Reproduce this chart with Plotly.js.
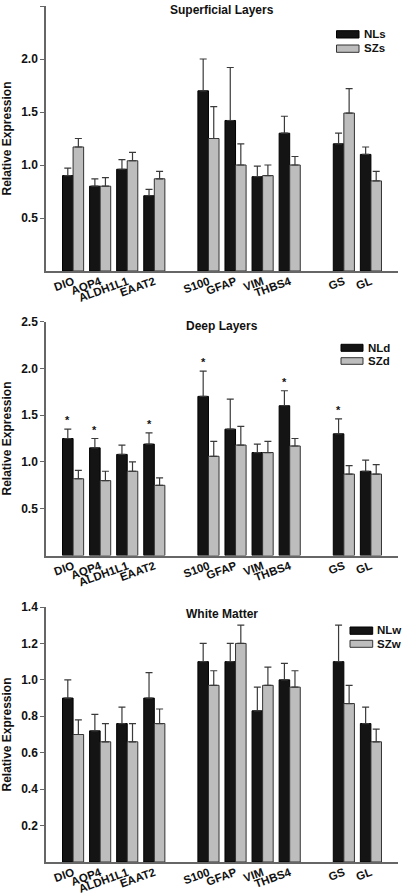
<!DOCTYPE html>
<html><head><meta charset="utf-8">
<script src="https://cdn.plot.ly/plotly-3.0.1.min.js"></script>
<style>html,body{margin:0;padding:0;background:#fff}#chart{width:407px;height:895px}</style>
</head><body><div id="chart"></div>
<script>
// ---------------- DATA ----------------
const markerGroups = [['DIO','AQP4','ALDH1L1','EAAT2'],['S100','GFAP','VIM','THBS4'],['GS','GL']];
const genes = ['DIO','AQP4','ALDH1L1','EAAT2','S100','GFAP','VIM','THBS4','GS','GL'];
const panelTitles = ['Superficial Layers','Deep Layers','White Matter'];
const controlNames = ['NLs','NLd','NLw'];
const schizNames = ['SZs','SZd','SZw'];
const yAxisTitle = 'Relative Expression';

const nlSuperficial    = [0.90,0.80,0.96,0.71,1.70,1.42,0.89,1.30,1.20,1.10];
const nlSuperficialErr = [0.07,0.07,0.09,0.06,0.30,0.50,0.10,0.16,0.10,0.07];
const szSuperficial    = [1.17,0.80,1.04,0.87,1.25,1.00,0.90,1.00,1.49,0.85];
const szSuperficialErr = [0.08,0.08,0.08,0.07,0.30,0.20,0.10,0.08,0.23,0.09];

const nlDeep    = [1.25,1.15,1.08,1.19,1.70,1.35,1.10,1.60,1.30,0.90];
const nlDeepErr = [0.10,0.10,0.10,0.12,0.27,0.32,0.09,0.16,0.16,0.12];
const szDeep    = [0.82,0.80,0.90,0.75,1.06,1.18,1.10,1.17,0.87,0.87];
const szDeepErr = [0.09,0.10,0.10,0.08,0.16,0.20,0.12,0.08,0.09,0.10];
const deepSignificant = ['DIO','AQP4','EAAT2','S100','THBS4','GS'];

const nlWhite    = [0.90,0.72,0.76,0.90,1.10,1.10,0.83,1.00,1.10,0.76];
const nlWhiteErr = [0.10,0.09,0.09,0.14,0.10,0.10,0.13,0.09,0.20,0.09];
const szWhite    = [0.70,0.66,0.66,0.76,0.97,1.20,0.97,0.96,0.87,0.66];
const szWhiteErr = [0.08,0.10,0.10,0.08,0.08,0.10,0.10,0.09,0.10,0.07];

const yTicksLayers = [0.5,1.0,1.5,2.0,2.5];
const yTicksWhite  = [0.2,0.4,0.6,0.8,1.0,1.2,1.4];
const yMaxLayers = 2.5, yMaxWhite = 1.4;

// ---------------- BUILD ----------------
const W = 407, H = 895;
const M = {l:46, r:9, t:6, b:33};
const plotW = W - M.l - M.r, plotH = H - M.t - M.b;
const FONT = 'Liberation Sans, Arial, Helvetica, sans-serif';
const DARK = '#141414', LIGHT = '#bdbdbd';

// category order with blank spacer slots between marker groups
const order = [];
markerGroups.forEach((g, i) => { if (i) order.push(' '.repeat(i)); g.forEach(n => order.push(n)); });
const expand = arr => order.map(c => { const k = genes.indexOf(c); return k < 0 ? null : arr[k]; });

const panels = [
  {top:6,     bottom:271,   nl:nlSuperficial, nlE:nlSuperficialErr, sz:szSuperficial, szE:szSuperficialErr, ymax:yMaxLayers, ticks:yTicksLayers, sig:[],
   leg:{x0:336.5, x1:359, dark:[30.7,38], gray:[45,52.3], tx:362, ty:[33.7,48.3]}, titleY:9.5},
  {top:321.5, bottom:555.5, nl:nlDeep, nlE:nlDeepErr, sz:szDeep, szE:szDeepErr, ymax:yMaxLayers, ticks:yTicksLayers, sig:deepSignificant,
   leg:{x0:341, x1:363, dark:[344.3,351.3], gray:[357.7,364.3], tx:366, ty:[347.7,360.7]}, titleY:325.5},
  {top:607,   bottom:862,   nl:nlWhite, nlE:nlWhiteErr, sz:szWhite, szE:szWhiteErr, ymax:yMaxWhite, ticks:yTicksWhite, sig:[],
   leg:{x0:350, x1:372.7, dark:[627,634.3], gray:[640.3,647.3], tx:375, ty:[630.3,644]}, titleY:614}
];

const traces = [], shapes = [], annotations = [];
const layout = {
  width: W, height: H, margin: M, paper_bgcolor: '#fff', plot_bgcolor: '#fff',
  showlegend: false, barmode: 'group', bargap: 0.22, bargroupgap: 0,
  font: {family: FONT, size: 12, color: '#111', weight: 'bold'},
  shapes, annotations
};

panels.forEach((p, i) => {
  const sfx = i ? String(i + 1) : '';
  const xa = 'x' + sfx, ya = 'y' + sfx;
  const dom = [(H - M.b - p.bottom) / plotH, (H - M.b - p.top) / plotH];
  const xd = px => (px - M.l) / plotW;
  const yd = py => (p.bottom - py) / (p.bottom - p.top);

  const errStyle = (arr) => ({type:'data', symmetric:false, array: expand(arr), arrayminus: expand(arr.map(() => 0)),
                               color:'#3a3a3a', thickness:1.2, width:3.5});
  traces.push({type:'bar', name: controlNames[i], x: order, y: expand(p.nl), xaxis: xa, yaxis: ya,
    marker:{color: DARK, line:{color:'#000', width:1}}, error_y: errStyle(p.nlE), hoverinfo:'x+y'});
  traces.push({type:'bar', name: schizNames[i], x: order, y: expand(p.sz), xaxis: xa, yaxis: ya,
    marker:{color: LIGHT, line:{color:'#333', width:1}}, error_y: errStyle(p.szE), hoverinfo:'x+y'});

  layout['xaxis' + sfx] = {
    anchor: ya, domain: [0, 1], type: 'category', categoryorder: 'array', categoryarray: order,
    range: [-1, order.length], showline: true, linecolor: '#666', linewidth: 1.5, ticks: '',
    tickangle: -20, ticklabelstandoff: -2, tickfont: {family: FONT, size: 11.5, color: '#111', weight: 'bold'},
    showgrid: false, zeroline: false, fixedrange: true
  };
  layout['yaxis' + sfx] = {
    anchor: xa, domain: dom, range: [0, p.ymax], tickvals: p.ticks, tickformat: '.1f',
    showline: true, linecolor: '#666', linewidth: 1.5, ticks: 'outside', ticklen: 4, tickcolor: '#666', tickwidth: 1.2,
    tickfont: {family: FONT, size: 12, color: '#111', weight: 'bold'},
    showgrid: false, zeroline: false, fixedrange: true,
    title: {text: yAxisTitle, standoff: 8, font: {family: FONT, size: 12, color: '#111', weight: 'bold'}}
  };

  // panel title
  annotations.push({text: panelTitles[i], xref: xa + ' domain', yref: ya + ' domain', x: 0.5, y: yd(p.titleY),
    xanchor: 'center', yanchor: 'middle', showarrow: false, font: {family: FONT, size: 12, color: '#111', weight: 'bold'}});

  // legend (swatches + labels)
  const L = p.leg;
  [[DARK, '#000', L.dark, controlNames[i], L.ty[0]], [LIGHT, '#333', L.gray, schizNames[i], L.ty[1]]].forEach(([fill, ln, yy, label, ty]) => {
    shapes.push({type:'rect', xref: xa + ' domain', yref: ya + ' domain', x0: xd(L.x0), x1: xd(L.x1), y0: yd(yy[1]), y1: yd(yy[0]),
      fillcolor: fill, line: {color: ln, width: 1}});
    annotations.push({text: label, xref: xa + ' domain', yref: ya + ' domain', x: xd(L.tx), y: yd(ty), xanchor: 'left', yanchor: 'middle',
      showarrow: false, font: {family: FONT, size: 11.5, color: '#111', weight: 'bold'}});
  });

  // significance stars over control bars
  p.sig.forEach(g => {
    const k = genes.indexOf(g);
    annotations.push({text: '*', xref: xa, yref: ya, x: g, y: p.nl[k] + p.nlE[k], xanchor: 'center', yanchor: 'bottom',
      xshift: -5.3, yshift: 1, showarrow: false, font: {family: FONT, size: 11, color: '#111', weight: 'bold'}});
  });
});

Plotly.newPlot('chart', traces, layout, {displayModeBar: false, responsive: false});
</script>
</body></html>
